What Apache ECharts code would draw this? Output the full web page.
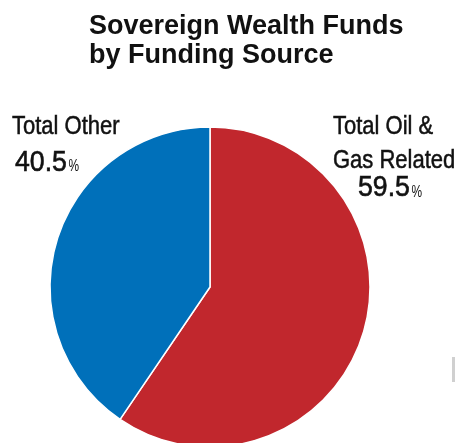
<!DOCTYPE html>
<html>
<head>
<meta charset="utf-8">
<script src="https://cdn.jsdelivr.net/npm/echarts@6/dist/echarts.min.js"></script>
<style>
  html, body { margin: 0; padding: 0; background: #ffffff; }
  #chart { width: 456px; height: 443px; }
</style>
</head>
<body>
<div id="chart"></div>
<script>
// Funding sources of sovereign wealth funds, share of total (%)
const categories = ['Total Oil & Gas Related', 'Total Other'];
const nameLines = [['Total Oil &', 'Gas Related'], ['Total Other']];
const shares = [59.5, 40.5];
const sliceColors = ['#c1272d', '#0070ba'];

const titleLines = ['Sovereign Wealth Funds', 'by Funding Source'];

const FONT = '"Liberation Sans", Arial, Helvetica, sans-serif';
const TEXT_COLOR = '#111111';

// Condensed look: regular sans squeezed horizontally, slightly heavier stroke
const NAME_STYLE = { size: 25, scaleX: 0.88, weight: 0.5 };
const VALUE_STYLE = { size: 29, scaleX: 0.92, weight: 0.6 };
const PCT_STYLE = { size: 17, scaleX: 0.7, weight: 0 };

// Where each slice's caption block sits: name line centres, value line centre
const captionLayout = [
  { nameX: 333, nameY: [127.5, 161], valueX: 358, valueY: 188 },
  { nameX: 12, nameY: [127.5], valueX: 15, valueY: 162.5 }
];

const chart = echarts.init(document.getElementById('chart'), null, { renderer: 'canvas' });

const pieData = categories.map((name, i) => ({
  name: name,
  value: shares[i],
  itemStyle: { color: sliceColors[i] }
}));

function textEl(str, x, y, st) {
  const style = {
    text: str,
    fill: TEXT_COLOR,
    font: 'normal ' + st.size + 'px ' + FONT,
    textAlign: 'left',
    textVerticalAlign: 'middle'
  };
  if (st.weight > 0) {
    style.stroke = TEXT_COLOR;
    style.lineWidth = st.weight;
  }
  return { type: 'text', x: x, y: y, scaleX: st.scaleX, silent: true, style: style };
}

// measure a string so the % sign can follow the number
const measureCtx = document.createElement('canvas').getContext('2d');
function textWidth(str, st) {
  measureCtx.font = 'normal ' + st.size + 'px ' + FONT;
  return measureCtx.measureText(str).width * st.scaleX;
}

const captions = [];
pieData.forEach((d, i) => {
  const lay = captionLayout[i];
  nameLines[i].forEach((line, k) => {
    captions.push(textEl(line, lay.nameX, lay.nameY[k], NAME_STYLE));
  });
  const valStr = d.value.toFixed(1);
  captions.push(textEl(valStr, lay.valueX, lay.valueY, VALUE_STYLE));
  const w = textWidth(valStr, VALUE_STYLE);
  // % sits on the number's baseline
  const pctY = lay.valueY + (0.358 * VALUE_STYLE.size - 0.358 * PCT_STYLE.size);
  captions.push(textEl('%', lay.valueX + w + 1.5, pctY, PCT_STYLE));
});

chart.setOption({
  animation: false,
  backgroundColor: '#ffffff',
  title: {
    text: titleLines.join('\n'),
    left: 89,
    top: 12,
    padding: 0,
    textStyle: {
      fontFamily: FONT,
      fontWeight: 'bold',
      fontSize: 27,
      lineHeight: 29,
      color: TEXT_COLOR
    }
  },
  series: [{
    type: 'pie',
    center: [210, 287],
    radius: [0, 160],
    startAngle: 90,
    clockwise: true,
    silent: true,
    emphasis: { disabled: true },
    itemStyle: { borderColor: '#ffffff', borderWidth: 1.5 },
    label: { show: false },
    labelLine: { show: false },
    data: pieData
  }],
  graphic: captions.concat([{
    type: 'rect',
    shape: { x: 452, y: 357, width: 3, height: 25 },
    style: { fill: '#d0d0d0' },
    silent: true
  }])
});
</script>
</body>
</html>
